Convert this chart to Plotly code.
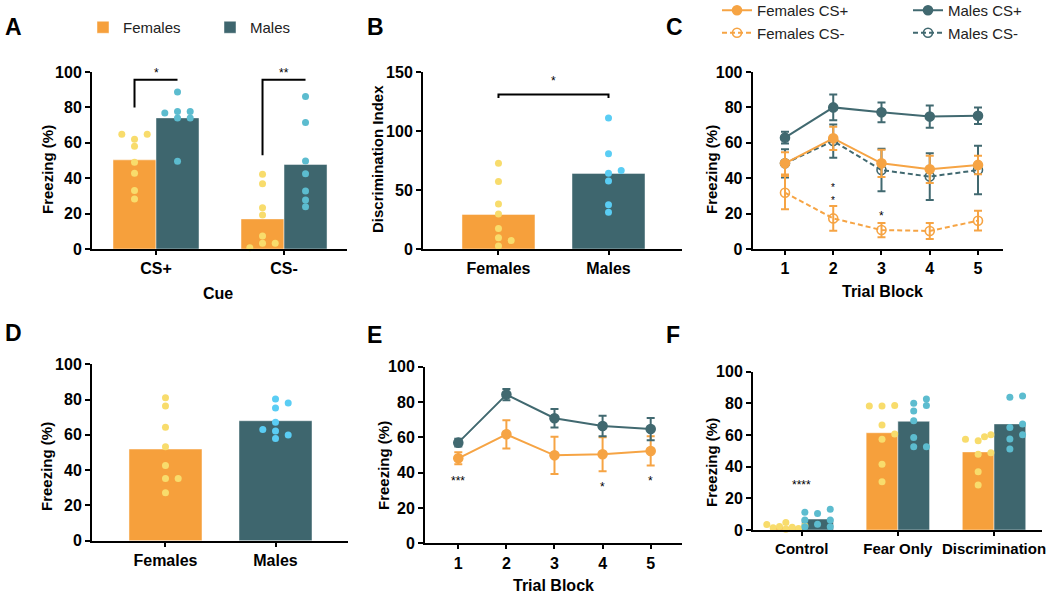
import numpy as np
import plotly.graph_objects as go

W, H = 1050, 596

# ---------------- data ----------------
# A: freezing to CS+ / CS- per animal
a_cues = ["CS+", "CS-"]
a_fem_cs_plus = [28.3, 33.0, 42.8, 49.0, 58.0, 62.0, 64.9, 64.9]
a_male_cs_plus = [49.6, 74.0, 74.0, 76.8, 77.7, 77.7, 88.7]
a_fem_cs_minus = [42.2, 36.9, 23.3, 19.2, 7.3, 3.2, 3.2, 0.7]
a_male_cs_minus = [23.9, 27.7, 32.8, 42.5, 49.7, 71.5, 86.2]

# B: discrimination index
b_groups = ["Females", "Males"]
b_fem = [2.5, 7.1, 9.6, 17.3, 29.7, 38.2, 57.2, 72.7]
b_male = [31.1, 37.4, 57.7, 64.2, 66.5, 80.7, 111.0]

# C: trial blocks, mean +/- sem
trial_blocks = [1, 2, 3, 4, 5]
c_fem_cs_plus = [48.4, 62.5, 48.4, 45.0, 47.5]
c_fem_cs_plus_err = [6.3, 6.5, 7.7, 7.7, 5.2]
c_fem_cs_minus = [31.8, 17.3, 10.7, 10.2, 16.0]
c_fem_cs_minus_err = [9.4, 7.0, 4.0, 4.5, 5.6]
c_male_cs_plus = [62.9, 80.0, 77.2, 74.8, 75.3]
c_male_cs_plus_err = [3.3, 7.3, 5.6, 6.3, 4.7]
c_male_cs_minus = [48.4, 61.0, 44.6, 40.9, 44.6]
c_male_cs_minus_err = [8.0, 9.4, 12.0, 13.2, 13.7]

# D: freezing per animal
d_groups = ["Females", "Males"]
d_fem = [27.2, 35.3, 35.3, 42.7, 53.3, 64.3, 76.4, 81.1]
d_male = [62.2, 59.9, 58.0, 63.1, 67.2, 75.2, 80.3, 78.1]

# E: trial blocks
e_fem = [48.1, 61.7, 49.8, 50.4, 52.3]
e_fem_err = [3.4, 8.0, 10.5, 9.6, 8.3]
e_male = [57.0, 84.2, 70.8, 66.4, 64.7]
e_male_err = [2.2, 3.2, 5.2, 5.8, 6.3]

# F: groups
f_groups = ["Control", "Fear Only", "Discrimination"]
f_fem_control = [0.5, 1.0, 1.5, 1.7, 2.2, 2.7, 3.5, 4.8]
f_male_control = [10.5, 13.1, 11.2, 3.6, 6.3, 6.3, 2.1, 2.1]
f_fem_fear = [30.5, 41.5, 57.3, 60.6, 66.3, 78.3, 78.7, 78.3]
f_male_fear = [52.6, 52.6, 58.5, 69.0, 75.2, 78.7, 80.0, 82.7]
f_fem_disc = [28.4, 36.8, 47.8, 48.8, 56.4, 60.2, 57.3, 58.9]
f_male_disc = [51.2, 57.5, 60.2, 64.8, 67.0, 83.8, 84.6]

# significance annotations
a_stars = ["*", "**"]
a_bracket_top = 95.6
a_bracket_legs = [80.0, 53.0]
b_star = "*"
b_bracket = [131.0, 128.0]
c_stars = [("*<br>*", 2, 32.6, 10), ("*", 3, 20.5, 12)]
e_stars = [("***", 1, 36.8, 12), ("*", 4, 33.4, 12), ("*", 5, 36.8, 12)]
f_stars = [("****", 0, 30.5, 12)]

# ---------------- style ----------------
ORANGE = "#F6A03C"
TEAL = "#3E666E"
YELLOW = "#F8DC6C"
CYAN_A = "#5CBCCF"
CYAN_B = "#5ACDF4"
LINE_OR = "#F6A444"
LINE_TE = "#416970"
FONT = "Liberation Sans, Arial, sans-serif"


def tickfont(size):
    return dict(family=FONT, size=size, color="black", weight="bold")


# panel boxes in pixels
geo = {
    "A": dict(x0=92, x1=347, y0=72, y1=249, xr=[-0.5, 1.492], yr=[0, 100], dtick=20, xfs=16),
    "B": dict(x0=423, x1=682, y0=72, y1=249, xr=[-0.686, 1.668], yr=[0, 150], dtick=50, xfs=16),
    "C": dict(x0=752.7, x1=1003, y0=72, y1=249, xr=[0.331, 5.518], yr=[0, 100], dtick=20, xfs=16),
    "D": dict(x0=92, x1=348, y0=364.3, y1=540.7, xr=[-0.668, 1.659], yr=[0, 100], dtick=20, xfs=16),
    "E": dict(x0=425, x1=682, y0=366.7, y1=543.3, xr=[0.308, 5.651], yr=[0, 100], dtick=20, xfs=16),
    "F": dict(x0=753, x1=1042, y0=371.7, y1=530, xr=[-0.5065, 2.499], yr=[0, 100], dtick=20, xfs=15),
}
keys = list(geo.keys())


def ax_names(k):
    i = keys.index(k) + 1
    return ("x" if i == 1 else f"x{i}"), ("y" if i == 1 else f"y{i}")


def pxx(k):
    g = geo[k]
    return (g["x1"] - g["x0"]) / (g["xr"][1] - g["xr"][0])


def pxy(k):
    g = geo[k]
    return (g["y1"] - g["y0"]) / (g["yr"][1] - g["yr"][0])


def swarm(values, center, k, step_px=12.7, diam=6.3):
    slots = [0, 1, -1, 0.5, -0.5, 1.5, -1.5, 2, -2, 2.5, -2.5, 3, -3]
    px_y = pxy(k)
    placed, out = [], []
    for v in values:
        chosen = slots[-1]
        for s in slots:
            ok = True
            for ps, pv in placed:
                dx = (s - ps) * step_px
                dy = (v - pv) * px_y
                if dx * dx + dy * dy < diam * diam - 1e-6:
                    ok = False
                    break
            if ok:
                chosen = s
                break
        placed.append((chosen, v))
        out.append(center + chosen * step_px / pxx(k))
    return out


fig = go.Figure()
BARLINE = dict(color="rgba(255,255,255,0.45)", width=1)


def add_grouped(k, groups_f, groups_m, bar_px, dot_f, dot_m, legend_f=None, legend_m=None):
    xa, ya = ax_names(k)
    n = len(groups_f)
    bw = bar_px / pxx(k)
    xf = [i - bw / 2 for i in range(n)]
    xm = [i + bw / 2 for i in range(n)]
    fig.add_trace(go.Bar(x=xf, y=[float(np.mean(v)) for v in groups_f], width=bw,
                         marker=dict(color=ORANGE, line=BARLINE),
                         xaxis=xa, yaxis=ya, name="Females",
                         showlegend=legend_f is not None, legend=legend_f or "legend"))
    fig.add_trace(go.Bar(x=xm, y=[float(np.mean(v)) for v in groups_m], width=bw,
                         marker=dict(color=TEAL, line=BARLINE),
                         xaxis=xa, yaxis=ya, name="Males",
                         showlegend=legend_m is not None, legend=legend_m or "legend"))
    for i in range(n):
        for vals, cx, col in ((groups_f[i], xf[i], dot_f), (groups_m[i], xm[i], dot_m)):
            fig.add_trace(go.Scatter(x=swarm(vals, cx, k), y=vals, mode="markers",
                                     marker=dict(color=col, size=7),
                                     xaxis=xa, yaxis=ya, showlegend=False, cliponaxis=False))


def add_pair(k, fem, male, bar_px):
    xa, ya = ax_names(k)
    bw = bar_px / pxx(k)
    fig.add_trace(go.Bar(x=[0, 1], y=[float(np.mean(fem)), float(np.mean(male))], width=bw,
                         marker=dict(color=[ORANGE, TEAL], line=BARLINE),
                         xaxis=xa, yaxis=ya, showlegend=False))
    for i, (vals, col) in enumerate(((fem, YELLOW), (male, CYAN_B))):
        fig.add_trace(go.Scatter(x=swarm(vals, i, k), y=vals, mode="markers",
                                 marker=dict(color=col, size=7), xaxis=xa, yaxis=ya,
                                 showlegend=False, cliponaxis=False))


add_grouped("A", [a_fem_cs_plus, a_fem_cs_minus], [a_male_cs_plus, a_male_cs_minus], 43,
            YELLOW, CYAN_A, legend_f="legend", legend_m="legend2")
add_pair("B", b_fem, b_male, 73)
add_pair("D", d_fem, d_male, 73)
add_grouped("F", [f_fem_control, f_fem_fear, f_fem_disc], [f_male_control, f_male_fear, f_male_disc],
            31.7, YELLOW, CYAN_A)


def line_trace(k, y, err, color, name, dashed, legend, rank=1):
    xa, ya = ax_names(k)
    return go.Scatter(
        x=trial_blocks, y=y, mode="lines+markers", name=name,
        line=dict(color=color, width=2, dash="5px,3px" if dashed else "solid"),
        marker=dict(symbol="circle-open" if dashed else "circle", size=9, color=color,
                    line=dict(width=1.6, color=color)),
        error_y=dict(type="data", array=err, color=color, thickness=2, width=4),
        xaxis=xa, yaxis=ya, legend=legend or "legend", showlegend=legend is not None,
        legendrank=rank, cliponaxis=False)


fig.add_trace(line_trace("C", c_male_cs_minus, c_male_cs_minus_err, LINE_TE, "Males CS-", True, "legend4", 2))
fig.add_trace(line_trace("C", c_fem_cs_minus, c_fem_cs_minus_err, LINE_OR, "Females CS-", True, "legend3", 2))
fig.add_trace(line_trace("C", c_fem_cs_plus, c_fem_cs_plus_err, LINE_OR, "Females CS+", False, "legend3", 1))
fig.add_trace(line_trace("C", c_male_cs_plus, c_male_cs_plus_err, LINE_TE, "Males CS+", False, "legend4", 1))
fig.add_trace(line_trace("E", e_fem, e_fem_err, LINE_OR, "Females", False, None))
fig.add_trace(line_trace("E", e_male, e_male_err, LINE_TE, "Males", False, None))

# ---------------- axes ----------------
tickdefs = {
    "A": ([0, 1], a_cues),
    "B": ([0, 1], b_groups),
    "C": (trial_blocks, [str(t) for t in trial_blocks]),
    "D": ([0, 1], d_groups),
    "E": (trial_blocks, [str(t) for t in trial_blocks]),
    "F": ([0, 1, 2], f_groups),
}
layout_axes = {}
for k, g in geo.items():
    xa, ya = ax_names(k)
    xkey = "xaxis" + xa[1:]
    ykey = "yaxis" + ya[1:]
    common = dict(showline=True, linecolor="black", linewidth=2, ticks="outside", tickwidth=2,
                  tickcolor="black", showgrid=False, zeroline=False, fixedrange=True,
                  ticklabeloverflow="allow")
    tv, tt = tickdefs[k]
    layout_axes[xkey] = dict(domain=[g["x0"] / W, g["x1"] / W], range=g["xr"], anchor=ya,
                             tickmode="array", tickvals=tv, ticktext=tt, ticklen=4,
                             tickfont=tickfont(g["xfs"]), **common)
    layout_axes[ykey] = dict(domain=[1 - g["y1"] / H, 1 - g["y0"] / H], range=g["yr"], anchor=xa,
                             tick0=0, dtick=g["dtick"], ticklen=5, tickfont=tickfont(16), **common)

# ---------------- shapes (brackets) ----------------
shapes = []
xa, ya = ax_names("A")
bwA = 43 / pxx("A")
for i in range(2):
    x0, x1 = i - bwA / 2, i + bwA / 2
    shapes.append(dict(type="path", xref=xa, yref=ya,
                       path=f"M {x0},{a_bracket_legs[i]} L {x0},{a_bracket_top} L {x1},{a_bracket_top}",
                       line=dict(color="black", width=2)))
xa, ya = ax_names("B")
shapes.append(dict(type="path", xref=xa, yref=ya,
                   path=f"M 0,{b_bracket[1]} L 0,{b_bracket[0]} L 1,{b_bracket[0]} L 1,{b_bracket[1]}",
                   line=dict(color="black", width=2)))

# ---------------- annotations ----------------
ann = []


def starfont(size):
    return dict(family=FONT, size=size, color="black")


xa, ya = ax_names("A")
for i, s in enumerate(a_stars):
    ann.append(dict(x=i, y=a_bracket_top, xref=xa, yref=ya, text=s, showarrow=False,
                    yanchor="bottom", font=starfont(12), yshift=-2))
xa, ya = ax_names("B")
ann.append(dict(x=0.5, y=b_bracket[0], xref=xa, yref=ya, text=b_star, showarrow=False,
                yanchor="bottom", font=starfont(12), yshift=4))
for k, lst in (("C", c_stars), ("E", e_stars), ("F", f_stars)):
    xa, ya = ax_names(k)
    for s, x, y, fs in lst:
        ann.append(dict(x=x, y=y, xref=xa, yref=ya, text=s, showarrow=False,
                        yanchor="middle", font=starfont(fs), yshift=-3))


def paper_text(text, px, py, size=15, angle=0, bold=True, xanchor="center"):
    ann.append(dict(x=px / W, y=1 - py / H, xref="paper", yref="paper", text=text, showarrow=False,
                    textangle=angle, xanchor=xanchor, yanchor="middle",
                    font=dict(family=FONT, size=size, color="black", weight="bold" if bold else "normal")))


# panel letters
for letter, px, py in (("A", 3, 27), ("B", 365, 27), ("C", 664, 27),
                       ("D", 3, 333), ("E", 365, 335), ("F", 664, 335)):
    paper_text(letter, px, py, size=23, xanchor="left")

# axis titles
paper_text("Freezing (%)", 47, 170, size=15, angle=-90)
paper_text("Discrimination Index", 377, 159, size=15, angle=-90)
paper_text("Freezing (%)", 711, 170, size=15, angle=-90)
paper_text("Freezing (%)", 47, 467, size=15, angle=-90)
paper_text("Freezing (%)", 383, 466, size=15, angle=-90)
paper_text("Freezing (%)", 711, 463, size=15, angle=-90)
paper_text("Cue", 218, 293, size=16)
paper_text("Trial Block", 882, 291, size=16)
paper_text("Trial Block", 553, 585, size=16)

LEGFONT = dict(family=FONT, size=15, color="#222")


def leg(px, py):
    return dict(x=px / W, y=1 - py / H, xanchor="left", yanchor="top", orientation="v",
                bgcolor="rgba(0,0,0,0)", borderwidth=0, font=LEGFONT, traceorder="normal",
                itemclick=False, itemdoubleclick=False)


fig.update_layout(
    width=W, height=H, margin=dict(l=0, r=0, t=0, b=0, autoexpand=False),
    paper_bgcolor="white", plot_bgcolor="rgba(0,0,0,0)",
    barmode="overlay", showlegend=True,
    legend=leg(83, 11), legend2=leg(210, 11),
    legend3=leg(717, -6), legend4=leg(908, -6),
    shapes=shapes, annotations=ann,
    font=dict(family=FONT, color="black"),
    **layout_axes,
)

fig.write_html("out.html",
               config={"displayModeBar": False, "staticPlot": True},
               post_script="document.body.style.margin='0px';document.body.style.overflow='hidden';")
